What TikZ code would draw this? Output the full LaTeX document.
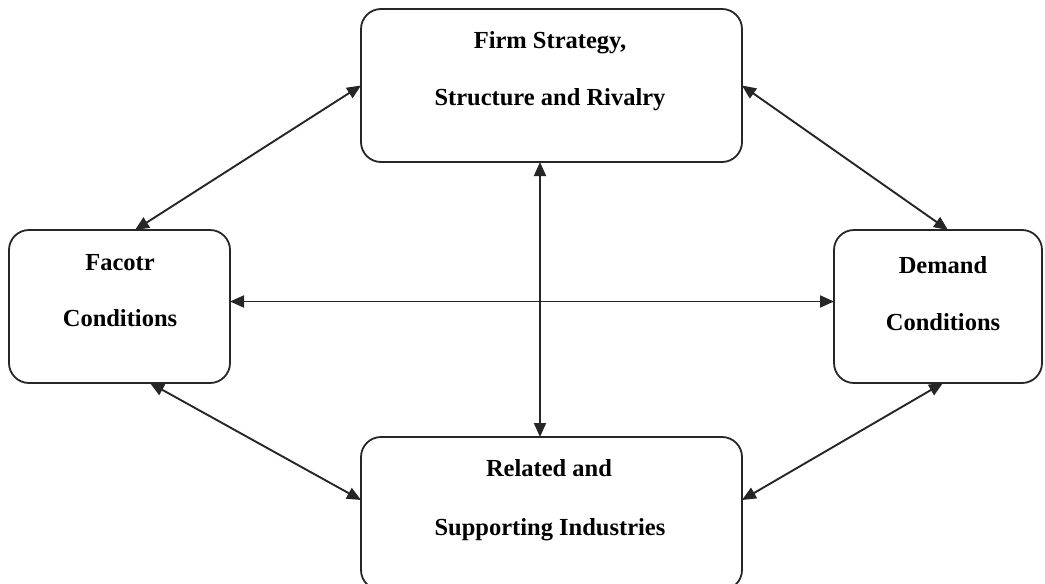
\documentclass[tikz,border=0pt]{standalone}
\usepackage{fontspec}
\setmainfont{Liberation Serif}
\usetikzlibrary{arrows.meta,calc}
\begin{document}
\begin{tikzpicture}[x=1pt,y=-1pt,
  box/.style={draw=black!85, line width=1.8pt, rounded corners=20pt, minimum width=#1, minimum height=153pt, inner sep=0pt, outer sep=0pt},
  lbl/.style={anchor=base, font=\fontsize{24.5}{28}\selectfont\bfseries, inner sep=0pt},
  link/.style={line width=1.9pt, draw=black!85, {Triangle[length=14pt,width=12pt]}-{Triangle[length=14pt,width=12pt]}}]
\useasboundingbox (0,0) rectangle (1045,584);
\clip (0,0) rectangle (1045,584);
% boxes
\node[box=381pt] (F) at (551.5,85.5) {};
\node[box=221pt] (L) at (119.5,306.5) {};
\node[box=208pt] (R) at (938,306.5) {};
\node[box=381pt] (B) at (551.5,513.5) {};
% texts
\node[lbl] (F1) at (550,48) {Firm Strategy,};
\node[lbl] (F2) at (550,105) {Structure and Rivalry};
\node[lbl] (L1) at (120,270) {Facotr};
\node[lbl] (L2) at (120,326) {Conditions};
\node[lbl] (R1) at (943,273) {Demand};
\node[lbl] (R2) at (943,330) {Conditions};
\node[lbl] (B1) at (549,476) {Related and};
\node[lbl] (B2) at (550,535) {Supporting Industries};
% connectors
\draw[link] (F.west) -- ($(L.north)+(15.5,0)$);
\draw[link] (F.east) -- ($(R.north)+(10,0)$);
\draw[link] ($(F.south)+(-11.5,0)$) -- ($(B.north)+(-11.5,0)$);
\draw[link] ($(L.east)+(0,-5)$) -- ($(R.west)+(0,-5)$);
\draw[link] ($(L.south)+(30.5,0)$) -- ($(B.west)+(0,-13.5)$);
\draw[link] ($(R.south)+(5,0)$) -- ($(B.east)+(0,-13.5)$);
\end{tikzpicture}
\end{document}
